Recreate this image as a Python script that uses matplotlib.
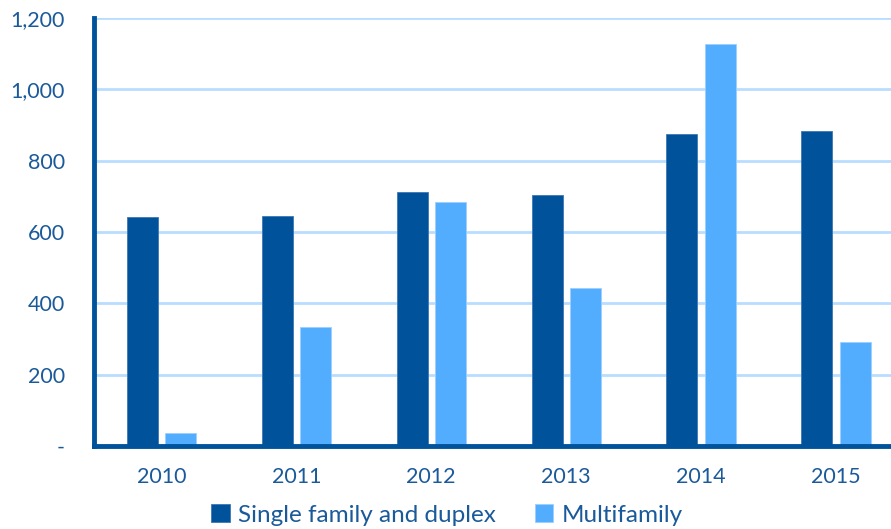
import matplotlib.pyplot as plt
import numpy as np
from matplotlib.ticker import FuncFormatter

years = ['2010', '2011', '2012', '2013', '2014', '2015']
single = [642, 645, 712, 704, 875, 883]
multi = [36, 334, 684, 443, 1127, 292]

dark = '#00529B'
light = '#52ADFF'
text_c = '#1B5A9A'

plt.rcParams['font.family'] = ['Lato', 'DejaVu Sans']

fig = plt.figure(figsize=(8.91, 5.29), dpi=100)
ax = fig.add_axes([94 / 891, 1 - 446 / 529, 797 / 891, 428 / 529])

x = np.arange(len(years))
w = 0.23
ax.bar(x - 0.14, single, w, color=dark, edgecolor='#3F78B5', linewidth=0.6,
       label='Single family and duplex', zorder=3)
ax.bar(x + 0.145, multi, w, color=light, edgecolor='#9CCFFF', linewidth=0.6,
       label='Multifamily', zorder=3)

ax.set_xlim(-0.5, 5.41)
ax.set_ylim(0, 1200)
ax.set_yticks(range(0, 1201, 200))
ax.yaxis.set_major_formatter(FuncFormatter(lambda v, p: '-' if v == 0 else f'{int(v):,}'))
ax.set_xticks(x)
ax.set_xticklabels(years)

ax.grid(axis='y', color='#B8DDFF', linewidth=2, zorder=0)
for s in ['top', 'right']:
    ax.spines[s].set_visible(False)
for s in ['left', 'bottom']:
    ax.spines[s].set_color(dark)
    ax.spines[s].set_linewidth(3.5)
    ax.spines[s].set_zorder(4)

ax.tick_params(axis='both', length=0, labelsize=15.5, labelcolor=text_c)
ax.tick_params(axis='y', pad=21)
ax.tick_params(axis='x', pad=15)

ax.legend(loc='center', bbox_to_anchor=(0.443, -0.161), ncol=2, frameon=False,
          fontsize=17.5, labelcolor=text_c, handlelength=0.75, handleheight=0.75,
          handletextpad=0.35, columnspacing=1.6, borderpad=0)

fig.savefig('out.png', dpi=100)
